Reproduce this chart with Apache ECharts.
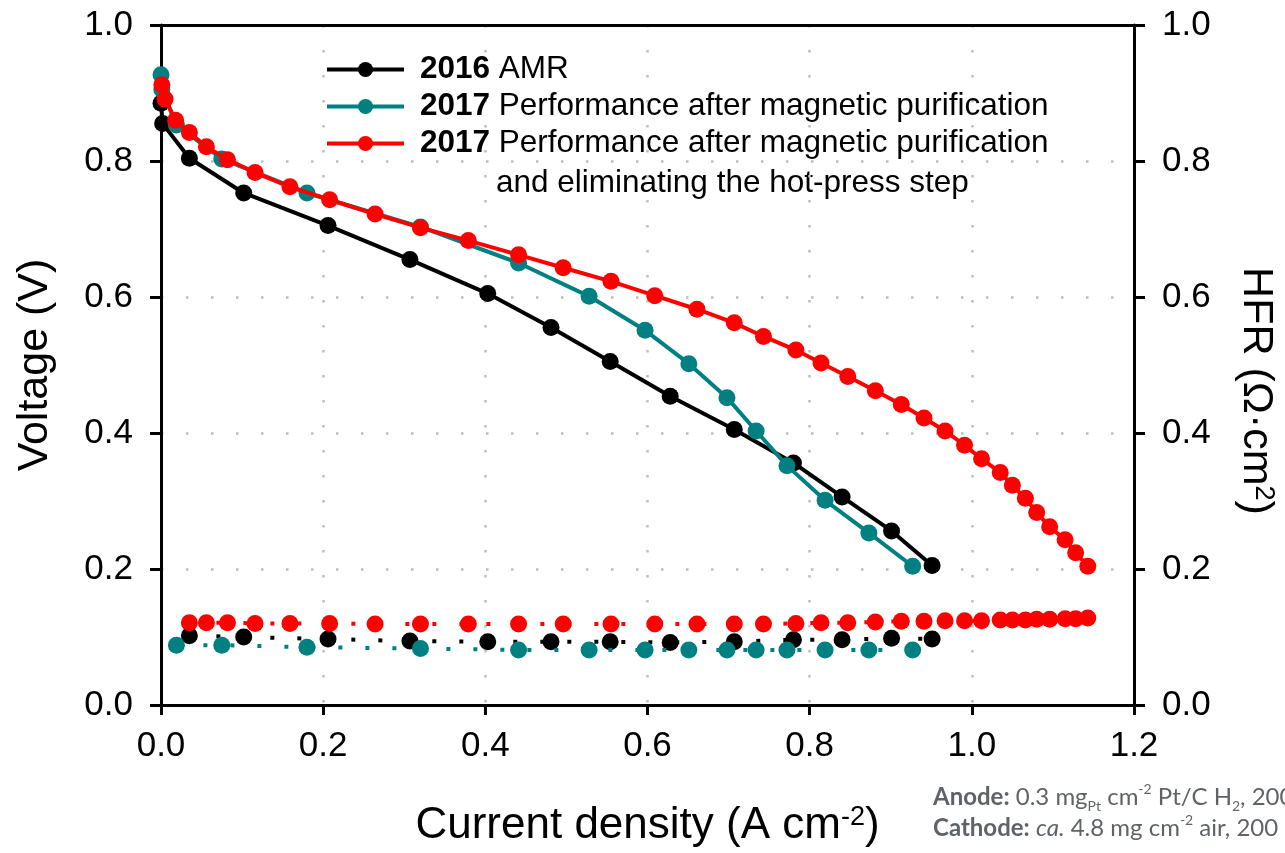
<!DOCTYPE html>
<html>
<head>
<meta charset="utf-8">
<title>Polarization curves</title>
<script src="https://cdn.jsdelivr.net/npm/echarts@6/dist/echarts.min.js"></script>
<style>
  html, body { margin: 0; padding: 0; background: #fff; }
  #chart { width: 1285px; height: 853px; }
</style>
</head>
<body>
<div id="chart"></div>
<script>
// 2016 AMR
const amrJ = [0.000, 0.002, 0.035, 0.102, 0.206, 0.307, 0.403, 0.481, 0.554, 0.628, 0.707, 0.780, 0.840, 0.901, 0.951];
const amrV = [0.885, 0.855, 0.804, 0.753, 0.705, 0.655, 0.605, 0.555, 0.505, 0.454, 0.405, 0.356, 0.306, 0.256, 0.205];
const amrHfr = [null, null, 0.102, 0.100, 0.097, 0.094, 0.093, 0.093, 0.093, 0.092, 0.093, 0.096, 0.096, 0.098, 0.097];

// 2017 after magnetic purification
const magJ = [0.000, 0.001, 0.019, 0.075, 0.180, 0.320, 0.441, 0.528, 0.597, 0.651, 0.698, 0.734, 0.772, 0.819, 0.873, 0.927];
const magV = [0.927, 0.905, 0.853, 0.803, 0.753, 0.703, 0.650, 0.601, 0.551, 0.502, 0.452, 0.403, 0.352, 0.301, 0.253, 0.204];
const magHfr = [null, null, 0.088, 0.088, 0.085, 0.083, 0.081, 0.081, 0.081, 0.081, 0.081, 0.081, 0.081, 0.081, 0.081, 0.081];

// 2017 after magnetic purification, no hot-press
const noHpJ = [0.001, 0.005, 0.018, 0.035, 0.056, 0.082, 0.116, 0.159, 0.208, 0.264, 0.320, 0.379, 0.441, 0.496, 0.555, 0.609, 0.661, 0.707,
  0.743, 0.783, 0.814, 0.847, 0.881, 0.913, 0.941, 0.967, 0.991, 1.012, 1.035, 1.050, 1.066, 1.080, 1.096, 1.115, 1.128, 1.143];
const noHpV = [0.912, 0.891, 0.860, 0.842, 0.821, 0.802, 0.783, 0.762, 0.743, 0.722, 0.702, 0.683, 0.662, 0.643, 0.623, 0.602, 0.582, 0.562,
  0.542, 0.522, 0.503, 0.483, 0.462, 0.442, 0.422, 0.403, 0.382, 0.362, 0.342, 0.323, 0.304, 0.283, 0.262, 0.243, 0.224, 0.204];
const noHpHfr = [null, null, null, 0.121, 0.121, 0.121, 0.120, 0.120, 0.120, 0.119, 0.119, 0.119, 0.119, 0.119, 0.119, 0.119, 0.119, 0.119,
  0.119, 0.120, 0.121, 0.121, 0.122, 0.123, 0.123, 0.124, 0.124, 0.124, 0.125, 0.125, 0.125, 0.126, 0.126, 0.127, 0.127, 0.128];

const seriesNames = ['amr', 'mag', 'nohp'];
const legendYears = ['2016', '2017', '2017'];
const legendTexts = ['AMR', 'Performance after magnetic purification', 'Performance after magnetic purification'];
const legendSecondLine = 'and eliminating the hot-press step';
const colors = ['#000000', '#008080', '#ff0000'];

const FONT = '"Liberation Sans", Arial, sans-serif';

// pair current density with values
const pairs = (xs, ys) => xs.map((x, i) => [x, ys[i]]);

const curves = [
  { j: amrJ, v: amrV, hfr: amrHfr },
  { j: magJ, v: magV, hfr: magHfr },
  { j: noHpJ, v: noHpV, hfr: noHpHfr }
];

const series = [];
curves.forEach((c, i) => {
  series.push({
    name: seriesNames[i],
    type: 'line',
    data: pairs(c.j, c.v),
    symbol: 'circle',
    symbolSize: 17,
    showAllSymbol: true,
    itemStyle: { color: colors[i] },
    lineStyle: { color: colors[i], width: 4 },
    z: 3 + i
  });
  series.push({
    name: seriesNames[i] + ' HFR',
    type: 'line',
    yAxisIndex: 1,
    data: pairs(c.j, c.hfr),
    symbol: 'circle',
    symbolSize: 17,
    showAllSymbol: true,
    itemStyle: { color: colors[i] },
    lineStyle: { color: colors[i], width: 4, type: [4, 23], cap: 'butt' },
    z: 3 + i
  });
});

const gridLine = { show: true, showMinLine: false, showMaxLine: false,
  lineStyle: { color: '#bdbdbd', width: 2.5, type: [2.5, 22.5] } };
const tickLabel = { fontSize: 35, color: '#000', fontFamily: FONT, formatter: v => v.toFixed(1) };

const chart = echarts.init(document.getElementById('chart'));
chart.setOption({
  animation: false,
  backgroundColor: '#fff',
  grid: { left: 161, right: 151, top: 25, bottom: 147 },
  legend: {
    data: seriesNames,
    orient: 'vertical',
    left: 325,
    top: 51,
    padding: 0,
    itemWidth: 77,
    itemHeight: 19,
    itemGap: 0,
    selectedMode: false,
    lineStyle: { width: 4 },
    formatter: name => {
      const i = seriesNames.indexOf(name);
      return '{g|}{b|' + legendYears[i] + '} ' + legendTexts[i];
    },
    textStyle: {
      fontSize: 31.5, color: '#000', fontFamily: FONT, lineHeight: 37,
      rich: {
        g: { width: 11 },
        b: { fontSize: 31.5, fontWeight: 'bold', color: '#000', fontFamily: FONT, lineHeight: 37 }
      }
    }
  },
  xAxis: [{
    type: 'value', min: 0, max: 1.2, interval: 0.2,
    name: 'Current density (A cm{sup|-2})',
    nameLocation: 'middle', nameGap: 99,
    nameTextStyle: { fontSize: 44, color: '#000', fontFamily: FONT,
      rich: { sup: { fontSize: 27, color: '#000', fontFamily: FONT, verticalAlign: 'top' } } },
    axisLine: { show: true, onZero: false, lineStyle: { color: '#000', width: 3 } },
    axisTick: { show: true, inside: false, length: 10, lineStyle: { color: '#000', width: 3 } },
    axisLabel: Object.assign({ margin: 24 }, tickLabel),
    splitLine: gridLine
  }, {
    type: 'value', min: 0, max: 1.2, position: 'top',
    axisLine: { show: true, onZero: false, lineStyle: { color: '#000', width: 3 } },
    axisTick: { show: false }, axisLabel: { show: false }, splitLine: { show: false }
  }],
  yAxis: [{
    type: 'value', min: 0, max: 1.0, interval: 0.2, position: 'left',
    name: 'Voltage (V)', nameLocation: 'middle', nameGap: 104,
    nameTextStyle: { fontSize: 43, color: '#000', fontFamily: FONT },
    axisLine: { show: true, onZero: false, lineStyle: { color: '#000', width: 3 } },
    axisTick: { show: true, inside: false, length: 11, lineStyle: { color: '#000', width: 3 } },
    axisLabel: Object.assign({ margin: 28 }, tickLabel),
    splitLine: gridLine
  }, {
    type: 'value', min: 0, max: 1.0, interval: 0.2, position: 'right',
    name: 'HFR (Ω·cm{sup|2})', nameLocation: 'middle', nameGap: 100, nameRotate: -90,
    nameTextStyle: { fontSize: 43, color: '#000', fontFamily: FONT, padding: [0, 0, 0, 52],
      rich: { sup: { fontSize: 27, color: '#000', fontFamily: FONT, verticalAlign: 'top' } } },
    axisLine: { show: true, onZero: false, lineStyle: { color: '#000', width: 3 } },
    axisTick: { show: true, inside: false, length: 11, lineStyle: { color: '#000', width: 3 } },
    axisLabel: Object.assign({ margin: 28 }, tickLabel),
    splitLine: { show: false }
  }],
  graphic: [{
    type: 'text', left: 496, top: 167,
    style: { text: legendSecondLine, fill: '#000', font: '31.5px ' + FONT }
  }, {
    type: 'text', left: 933, top: 782,
    style: {
      text: '{b|Anode:} 0.3 mg{sub|Pt} cm{sup|-2} Pt/C H{sub|2}, 200 sccm\n{b|Cathode:} {i|ca.} 4.8 mg cm{sup|-2} air, 200 sccm',
      fill: '#5f6368', font: '24px Lato, "Open Sans", sans-serif', lineHeight: 31,
      rich: {
        b: { fontWeight: 'bold', fontSize: 24, fontFamily: 'Lato', fill: '#5f6368', lineHeight: 31 },
        i: { fontStyle: 'italic', fontSize: 24, fontFamily: 'Lato', fill: '#5f6368', lineHeight: 31 },
        sub: { fontSize: 14, fontFamily: 'Lato', fill: '#5f6368', verticalAlign: 'bottom', lineHeight: 23 },
        sup: { fontSize: 14, fontFamily: 'Lato', fill: '#5f6368', verticalAlign: 'top', lineHeight: 31 }
      }
    }
  }],
  series: series
});
</script>
</body>
</html>
